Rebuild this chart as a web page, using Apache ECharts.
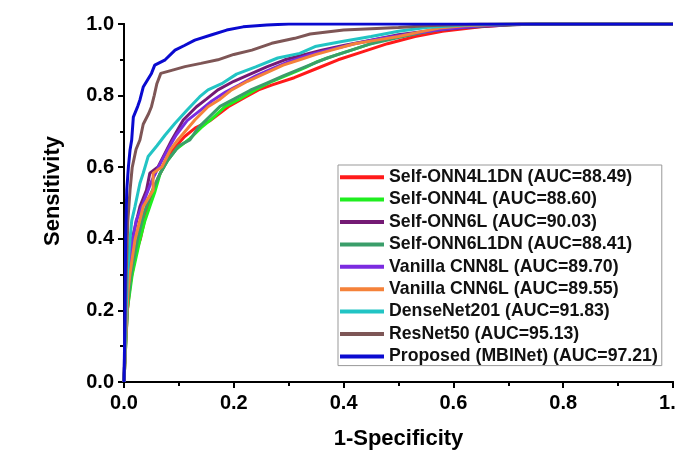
<!DOCTYPE html>
<html>
<head>
<meta charset="utf-8">
<script src="https://cdn.jsdelivr.net/npm/echarts@6/dist/echarts.min.js"></script>
<style>html,body{margin:0;padding:0;background:#fff}#c{width:676px;height:452px}</style>
</head>
<body>
<div id="c"></div>
<script>
// Series names (legend order)
const names = [
  'Self-ONN4L1DN (AUC=88.49)',
  'Self-ONN4L (AUC=88.60)',
  'Self-ONN6L (AUC=90.03)',
  'Self-ONN6L1DN (AUC=88.41)',
  'Vanilla CNN8L (AUC=89.70)',
  'Vanilla CNN6L (AUC=89.55)',
  'DenseNet201 (AUC=91.83)',
  'ResNet50 (AUC=95.13)',
  'Proposed (MBINet) (AUC=97.21)'
];
const colors = ['#ff1a1a','#1fee1f','#741a74','#3a9e6a','#7b2be0','#f5823a','#22c4c4','#7e5656','#0a0ad0'];

// ROC points [1-Specificity, Sensitivity]
const selfOnn4L1DN = [[0,0],[0.003,0.1],[0.006,0.2],[0.012,0.28],[0.018,0.33],[0.023,0.368],[0.03,0.4],[0.04,0.47],[0.05,0.52],[0.062,0.57],[0.075,0.61],[0.09,0.65],[0.11,0.685],[0.13,0.71],[0.157,0.73],[0.19,0.769],[0.22,0.795],[0.245,0.816],[0.27,0.83],[0.31,0.85],[0.35,0.875],[0.39,0.9],[0.43,0.92],[0.48,0.945],[0.53,0.965],[0.58,0.98],[0.65,0.992],[0.72,1],[1,1]];
const selfOnn4L = [[0,0],[0.003,0.1],[0.006,0.2],[0.015,0.3],[0.029,0.397],[0.038,0.45],[0.047,0.49],[0.056,0.53],[0.066,0.583],[0.08,0.62],[0.095,0.65],[0.12,0.68],[0.14,0.71],[0.16,0.735],[0.184,0.769],[0.21,0.79],[0.239,0.816],[0.27,0.84],[0.305,0.862],[0.33,0.878],[0.352,0.895],[0.39,0.915],[0.42,0.93],[0.46,0.95],[0.5,0.965],[0.55,0.978],[0.6,0.99],[0.68,0.997],[0.75,1],[1,1]];
const selfOnn6L = [[0,0],[0.003,0.15],[0.008,0.3],[0.015,0.4],[0.029,0.49],[0.041,0.536],[0.047,0.583],[0.062,0.601],[0.075,0.64],[0.087,0.676],[0.108,0.732],[0.132,0.769],[0.15,0.79],[0.171,0.816],[0.2,0.84],[0.233,0.862],[0.26,0.88],[0.293,0.9],[0.33,0.915],[0.36,0.927],[0.4,0.94],[0.45,0.955],[0.5,0.97],[0.55,0.98],[0.62,0.99],[0.7,0.997],[0.75,1],[1,1]];
const selfOnn6L1DN = [[0,0],[0.003,0.1],[0.007,0.22],[0.013,0.3],[0.025,0.4],[0.036,0.47],[0.05,0.53],[0.065,0.58],[0.08,0.62],[0.1,0.66],[0.12,0.676],[0.135,0.71],[0.155,0.74],[0.175,0.77],[0.2,0.79],[0.23,0.815],[0.26,0.835],[0.29,0.855],[0.33,0.88],[0.37,0.905],[0.41,0.925],[0.45,0.945],[0.5,0.962],[0.55,0.978],[0.6,0.99],[0.68,0.997],[0.75,1],[1,1]];
const vanillaCnn8L = [[0,0],[0.003,0.15],[0.008,0.3],[0.014,0.38],[0.022,0.45],[0.035,0.5],[0.05,0.56],[0.066,0.61],[0.08,0.65],[0.095,0.69],[0.115,0.73],[0.14,0.76],[0.16,0.785],[0.185,0.81],[0.21,0.83],[0.24,0.855],[0.27,0.875],[0.3,0.895],[0.34,0.915],[0.38,0.93],[0.42,0.945],[0.47,0.96],[0.52,0.972],[0.58,0.985],[0.65,0.995],[0.72,1],[1,1]];
const vanillaCnn6L = [[0,0],[0.004,0.15],[0.007,0.25],[0.011,0.304],[0.02,0.397],[0.035,0.49],[0.053,0.536],[0.053,0.583],[0.069,0.601],[0.085,0.65],[0.098,0.676],[0.129,0.732],[0.153,0.769],[0.175,0.79],[0.196,0.816],[0.225,0.84],[0.257,0.862],[0.29,0.885],[0.32,0.9],[0.35,0.915],[0.378,0.927],[0.42,0.945],[0.46,0.955],[0.5,0.965],[0.54,0.978],[0.575,0.989],[0.62,0.995],[0.7,1],[1,1]];
const denseNet201 = [[0,0],[0.003,0.15],[0.006,0.3],[0.011,0.397],[0.014,0.45],[0.02,0.49],[0.029,0.555],[0.035,0.583],[0.044,0.63],[0.06,0.66],[0.075,0.69],[0.093,0.723],[0.115,0.76],[0.138,0.797],[0.153,0.816],[0.18,0.835],[0.205,0.86],[0.24,0.88],[0.28,0.905],[0.32,0.918],[0.348,0.937],[0.397,0.951],[0.45,0.965],[0.5,0.98],[0.55,0.99],[0.62,0.997],[0.7,1],[1,1]];
const resNet50 = [[0,0],[0.002,0.15],[0.004,0.3],[0.007,0.45],[0.011,0.536],[0.015,0.6],[0.022,0.65],[0.029,0.676],[0.035,0.72],[0.045,0.75],[0.05,0.769],[0.055,0.8],[0.06,0.834],[0.067,0.862],[0.09,0.872],[0.111,0.881],[0.14,0.89],[0.171,0.9],[0.2,0.915],[0.233,0.927],[0.269,0.946],[0.311,0.96],[0.339,0.972],[0.4,0.983],[0.45,0.987],[0.5,0.99],[0.55,0.995],[0.65,1],[1,1]];
const proposed = [[0,0],[0.001,0.1],[0.002,0.25],[0.003,0.4],[0.005,0.536],[0.008,0.6],[0.011,0.648],[0.014,0.676],[0.017,0.74],[0.025,0.77],[0.029,0.788],[0.035,0.824],[0.05,0.862],[0.056,0.885],[0.075,0.9],[0.093,0.927],[0.11,0.94],[0.129,0.955],[0.16,0.97],[0.187,0.983],[0.217,0.992],[0.26,0.997],[0.3,1],[1,1]];

const seriesData = [selfOnn4L1DN, selfOnn4L, selfOnn6L, selfOnn6L1DN, vanillaCnn8L, vanillaCnn6L, denseNet201, resNet50, proposed];
const xTicks = [0, 0.2, 0.4, 0.6, 0.8, 1.0];
const yTicks = [0, 0.2, 0.4, 0.6, 0.8, 1.0];

const FONT = '"Liberation Sans", Arial, sans-serif';
const fmt = v => v.toFixed(1);
const axisLine = {show: true, lineStyle: {color: '#000', width: 2}};

const chart = echarts.init(document.getElementById('c'));
chart.setOption({
  animation: false,
  backgroundColor: '#fff',
  color: colors,
  grid: {left: 124, right: 3, top: 24, bottom: 70, containLabel: false, outerBoundsMode: 'none'},
  xAxis: [{
    type: 'value', min: xTicks[0], max: xTicks[xTicks.length - 1], interval: 0.2, position: 'bottom',
    axisLine: axisLine,
    axisTick: {show: true, inside: false, length: 6, lineStyle: {color: '#000', width: 2}},
    minorTick: {show: true, splitNumber: 2, length: 4, lineStyle: {color: '#000', width: 2}},
    splitLine: {show: false},
    axisLabel: {formatter: fmt, fontSize: 20, fontWeight: 'bold', color: '#000', fontFamily: FONT, margin: 11, hideOverlap: false},
    name: '1-Specificity', nameLocation: 'middle', nameGap: 46,
    nameTextStyle: {fontSize: 22, fontWeight: 'bold', color: '#000', fontFamily: FONT}
  }, {
    type: 'value', min: 0, max: 1, interval: 0.2, position: 'top',
    axisLine: axisLine,
    axisTick: {show: true, inside: true, length: 5, lineStyle: {color: '#000', width: 2}},
    minorTick: {show: true, splitNumber: 2, length: 3, lineStyle: {color: '#000', width: 2}},
    splitLine: {show: false}, axisLabel: {show: false}
  }],
  yAxis: [{
    type: 'value', min: yTicks[0], max: yTicks[yTicks.length - 1], interval: 0.2, position: 'left',
    axisLine: axisLine,
    axisTick: {show: true, inside: false, length: 6, lineStyle: {color: '#000', width: 2}},
    minorTick: {show: true, splitNumber: 2, length: 4, lineStyle: {color: '#000', width: 2}},
    splitLine: {show: false},
    axisLabel: {formatter: fmt, fontSize: 20, fontWeight: 'bold', color: '#000', fontFamily: FONT, margin: 10},
    name: 'Sensitivity', nameLocation: 'middle', nameGap: 60,
    nameTextStyle: {fontSize: 22, fontWeight: 'bold', color: '#000', fontFamily: FONT, padding: [0, 0, 0, 24]}
  }, {
    type: 'value', min: 0, max: 1, interval: 0.2, position: 'right',
    axisLine: axisLine,
    axisTick: {show: true, inside: true, length: 5, lineStyle: {color: '#000', width: 2}},
    minorTick: {show: true, splitNumber: 2, length: 3, lineStyle: {color: '#000', width: 2}},
    splitLine: {show: false}, axisLabel: {show: false}
  }],
  legend: {
    orient: 'vertical', left: 338, top: 165,
    icon: 'rect', itemWidth: 44, itemHeight: 4, itemGap: 4,
    padding: [3, 4, 0, 2],
    borderColor: '#999', borderWidth: 1, backgroundColor: '#fff',
    textStyle: {fontSize: 17.7, fontWeight: 'bold', color: '#111', fontFamily: FONT, lineHeight: 18.4},
    data: names
  },
  series: seriesData.map((d, i) => ({
    name: names[i], type: 'line', data: d, xAxisIndex: 0, yAxisIndex: 0,
    symbol: 'none', lineStyle: {width: 3, color: colors[i]}, itemStyle: {color: colors[i]},
    z: 2 + i
  }))
});
</script>
</body>
</html>
